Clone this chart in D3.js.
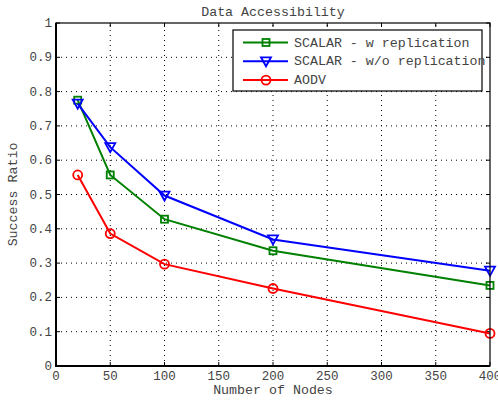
<!DOCTYPE html>
<html>
<head>
<meta charset="utf-8">
<script src="https://cdn.jsdelivr.net/npm/d3@7"></script>
<style>
  body { margin: 0; background: #fff; }
</style>
</head>
<body>
<div id="chart"></div>
<script>
// Data
const nodes = [20, 50, 100, 200, 400];
const withReplication = [0.775, 0.557, 0.428, 0.336, 0.235];
const withoutReplication = [0.765, 0.638, 0.497, 0.369, 0.278];
const aodv = [0.557, 0.386, 0.297, 0.226, 0.095];
const xTicks = [0, 50, 100, 150, 200, 250, 300, 350, 400];
const yTicks = [0, 0.1, 0.2, 0.3, 0.4, 0.5, 0.6, 0.7, 0.8, 0.9, 1];

const series = [
  {name: "SCALAR - w replication", values: withReplication, color: "#008000", marker: "square"},
  {name: "SCALAR - w/o replication", values: withoutReplication, color: "#0000ff", marker: "triangle"},
  {name: "AODV", values: aodv, color: "#ff0000", marker: "circle"}
];

const FONT = "'Liberation Mono', 'Courier New', Courier, 'DejaVu Sans Mono', monospace";
const TEXT_COLOR = "#444";

const width = 498, height = 402;
const margin = {top: 23, right: 8, bottom: 36, left: 56};

const svg = d3.select("#chart").append("svg")
  .attr("width", width)
  .attr("height", height)
  .style("font-family", FONT);

svg.append("rect").attr("width", width).attr("height", height).attr("fill", "#fff");

const x = d3.scaleLinear().domain([0, 400]).range([margin.left, width - margin.right]);
const y = d3.scaleLinear().domain([0, 1]).range([height - margin.bottom, margin.top]);

const x0 = x(0), x1 = x(400), y0 = y(0), y1 = y(1);

function label(g, px, py, str, size, anchor) {
  return g.append("text").attr("x", px).attr("y", py)
    .attr("text-anchor", anchor || "middle")
    .attr("font-family", FONT).attr("font-size", size)
    .attr("fill", TEXT_COLOR).text(str);
}

// dotted grid
const grid = svg.append("g");
grid.selectAll(".gx").data(xTicks.slice(1, -1)).enter().append("line")
  .attr("x1", d => x(d)).attr("x2", d => x(d))
  .attr("y1", y0).attr("y2", y1)
  .attr("stroke", "#000").attr("stroke-width", 1).attr("stroke-dasharray", "1,4");
grid.selectAll(".gy").data(yTicks.slice(1, -1)).enter().append("line")
  .attr("x1", x0).attr("x2", x1)
  .attr("y1", d => y(d)).attr("y2", d => y(d))
  .attr("stroke", "#000").attr("stroke-width", 1).attr("stroke-dasharray", "1,4");

// inward ticks on all four sides
const tickLen = 4;
const ticks = svg.append("g").attr("stroke", "#000").attr("stroke-width", 1);
xTicks.forEach(t => {
  ticks.append("line").attr("x1", x(t)).attr("x2", x(t)).attr("y1", y0).attr("y2", y0 - tickLen);
  ticks.append("line").attr("x1", x(t)).attr("x2", x(t)).attr("y1", y1).attr("y2", y1 + tickLen);
});
yTicks.forEach(t => {
  ticks.append("line").attr("y1", y(t)).attr("y2", y(t)).attr("x1", x0).attr("x2", x0 + tickLen);
  ticks.append("line").attr("y1", y(t)).attr("y2", y(t)).attr("x1", x1).attr("x2", x1 - tickLen);
});

// tick labels
const tl = svg.append("g");
xTicks.forEach(t => label(tl, x(t), y0 + 14, t, 12.5));
yTicks.forEach(t => label(tl, x0 - 4, y(t) + 4, t === 0 || t === 1 ? t : t.toFixed(1), 12.5, "end"));

// data lines and markers
const line = d3.line().x(d => x(d[0])).y(d => y(d[1]));

function drawMarker(g, type, cx, cy, color) {
  if (type === "square") {
    g.append("rect").attr("x", cx - 3.5).attr("y", cy - 3.5).attr("width", 7).attr("height", 7)
      .attr("fill", "none").attr("stroke", color).attr("stroke-width", 1.8);
  } else if (type === "triangle") {
    g.append("path").attr("d", `M${cx - 5},${cy - 4}L${cx + 5},${cy - 4}L${cx},${cy + 5}Z`)
      .attr("fill", "none").attr("stroke", color).attr("stroke-width", 1.8);
  } else {
    g.append("circle").attr("cx", cx).attr("cy", cy).attr("r", 4.5)
      .attr("fill", "none").attr("stroke", color).attr("stroke-width", 1.8);
  }
}

series.forEach(s => {
  const pts = nodes.map((n, i) => [n, s.values[i]]);
  const g = svg.append("g");
  g.append("path").datum(pts).attr("d", line)
    .attr("fill", "none").attr("stroke", s.color).attr("stroke-width", 2);
  pts.forEach(p => drawMarker(g, s.marker, x(p[0]), y(p[1]), s.color));
});

// axes box
svg.append("rect").attr("x", x0).attr("y", y1).attr("width", x1 - x0).attr("height", y0 - y1)
  .attr("fill", "none").attr("stroke", "#000").attr("stroke-width", 1.2);
svg.append("line").attr("x1", x0).attr("x2", x0).attr("y1", y1).attr("y2", y0 + 1)
  .attr("stroke", "#000").attr("stroke-width", 2);
svg.append("line").attr("x1", x0 - 1).attr("x2", x1).attr("y1", y0).attr("y2", y0)
  .attr("stroke", "#000").attr("stroke-width", 2);

// legend
const legend = svg.append("g");
const lgX = 233, lgY = 30, lgW = 249, lgH = 61;
legend.append("rect").attr("x", lgX).attr("y", lgY).attr("width", lgW).attr("height", lgH)
  .attr("fill", "#fff").attr("stroke", "#000").attr("stroke-width", 1.2);
series.forEach((s, i) => {
  const ly = lgY + 12.5 + i * 18.8;
  legend.append("line").attr("x1", lgX + 10).attr("x2", lgX + 55).attr("y1", ly).attr("y2", ly)
    .attr("stroke", s.color).attr("stroke-width", 2);
  drawMarker(legend, s.marker, lgX + 33, ly, s.color);
  label(legend, lgX + 61, ly + 4, s.name, 13.3, "start");
});

// title and axis labels
label(svg, (x0 + x1) / 2, 16, "Data Accessibility", 13.3);
label(svg, (x0 + x1) / 2, 394, "Number of Nodes", 13.3);
label(svg, 0, 0, "Success Ratio", 13.3)
  .attr("transform", `translate(17,${(y0 + y1) / 2}) rotate(-90)`);
</script>
</body>
</html>
